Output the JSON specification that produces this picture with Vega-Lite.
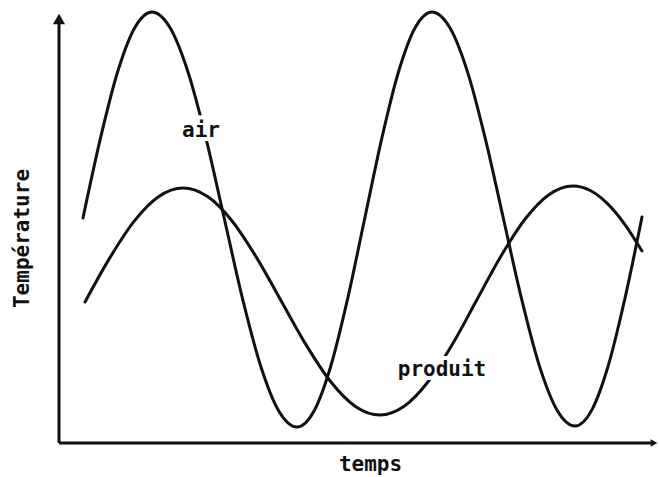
{
  "$schema": "https://vega.github.io/schema/vega-lite/v6.json",
  "width": 600,
  "height": 443,
  "autosize": {"type": "none"},
  "padding": {"left": 59, "top": 0, "right": 0, "bottom": 34},
  "background": "white",
  "config": {
    "view": {"stroke": null},
    "axis": {
      "domain": false, "ticks": false, "labels": false, "grid": false,
      "titleFont": "DejaVu Sans Mono", "titleFontWeight": "bold", "titleFontSize": 21, "titleColor": "#111"
    },
    "axisX": {"titleX": 311, "titleY": 21, "titleAlign": "center", "titleBaseline": "middle"},
    "axisY": {"titleX": -37, "titleY": 238, "titleAlign": "center", "titleBaseline": "middle", "titleAngle": -90}
  },
  "datasets": {
    "origine": [{}],
    "courbes": [
      {"serie": "air", "t": 24, "temp": 225},
      {"serie": "air", "t": 41.25, "temp": 303.8},
      {"serie": "air", "t": 58.5, "temp": 370.7},
      {"serie": "air", "t": 75.75, "temp": 415.3},
      {"serie": "air", "t": 93, "temp": 431},
      {"serie": "air", "t": 111.1, "temp": 415.2},
      {"serie": "air", "t": 129.25, "temp": 370.2},
      {"serie": "air", "t": 147.4, "temp": 302.9},
      {"serie": "air", "t": 165.5, "temp": 223.5},
      {"serie": "air", "t": 183.6, "temp": 144.1},
      {"serie": "air", "t": 201.75, "temp": 76.8},
      {"serie": "air", "t": 219.9, "temp": 31.8},
      {"serie": "air", "t": 238, "temp": 16},
      {"serie": "air", "t": 254.9, "temp": 31.8},
      {"serie": "air", "t": 271.75, "temp": 76.8},
      {"serie": "air", "t": 288.6, "temp": 144.1},
      {"serie": "air", "t": 305.5, "temp": 223.5},
      {"serie": "air", "t": 322.4, "temp": 302.9},
      {"serie": "air", "t": 339.25, "temp": 370.2},
      {"serie": "air", "t": 356.1, "temp": 415.2},
      {"serie": "air", "t": 373, "temp": 431},
      {"serie": "air", "t": 390.9, "temp": 415.2},
      {"serie": "air", "t": 408.75, "temp": 370.4},
      {"serie": "air", "t": 426.6, "temp": 303.2},
      {"serie": "air", "t": 444.5, "temp": 224},
      {"serie": "air", "t": 462.4, "temp": 144.8},
      {"serie": "air", "t": 480.25, "temp": 77.6},
      {"serie": "air", "t": 498.1, "temp": 32.8},
      {"serie": "air", "t": 516, "temp": 17},
      {"serie": "air", "t": 532.75, "temp": 32.9},
      {"serie": "air", "t": 549.5, "temp": 78.2},
      {"serie": "air", "t": 566.25, "temp": 146},
      {"serie": "air", "t": 583, "temp": 226},
      {"serie": "produit", "t": 26, "temp": 141},
      {"serie": "produit", "t": 50.5, "temp": 184.6},
      {"serie": "produit", "t": 75, "temp": 221.6},
      {"serie": "produit", "t": 99.5, "temp": 246.3},
      {"serie": "produit", "t": 124, "temp": 255},
      {"serie": "produit", "t": 148.6, "temp": 246.4},
      {"serie": "produit", "t": 173.25, "temp": 221.8},
      {"serie": "produit", "t": 197.9, "temp": 184.9},
      {"serie": "produit", "t": 222.5, "temp": 141.5},
      {"serie": "produit", "t": 247.1, "temp": 98.1},
      {"serie": "produit", "t": 271.75, "temp": 61.2},
      {"serie": "produit", "t": 296.4, "temp": 36.6},
      {"serie": "produit", "t": 321, "temp": 28},
      {"serie": "produit", "t": 345.1, "temp": 36.7},
      {"serie": "produit", "t": 369.25, "temp": 61.5},
      {"serie": "produit", "t": 393.4, "temp": 98.7},
      {"serie": "produit", "t": 417.5, "temp": 142.5},
      {"serie": "produit", "t": 441.6, "temp": 186.3},
      {"serie": "produit", "t": 465.75, "temp": 223.5},
      {"serie": "produit", "t": 489.9, "temp": 248.3},
      {"serie": "produit", "t": 514, "temp": 257},
      {"serie": "produit", "t": 531.25, "temp": 252.5},
      {"serie": "produit", "t": 548.5, "temp": 239.4},
      {"serie": "produit", "t": 565.75, "temp": 218.7},
      {"serie": "produit", "t": 583, "temp": 192}
    ],
    "etiquettes": [
      {"label": "air", "t": 142, "temp": 312},
      {"label": "produit", "t": 383, "temp": 73}
    ]
  },
  "layer": [
    {
      "data": {"name": "origine"},
      "mark": {"type": "rule", "color": "#111", "strokeWidth": 3},
      "encoding": {
        "x": {"datum": 0, "type": "quantitative", "title": "temps", "scale": {"domain": [0, 600], "nice": false, "zero": false}},
        "y": {"datum": 0, "type": "quantitative", "title": "Température", "scale": {"domain": [0, 443], "nice": false, "zero": false}},
        "y2": {"datum": 424}
      }
    },
    {
      "data": {"name": "origine"},
      "mark": {"type": "rule", "color": "#111", "strokeWidth": 3},
      "encoding": {
        "x": {"datum": 0, "type": "quantitative", "title": "temps"},
        "x2": {"datum": 594},
        "y": {"datum": 0, "type": "quantitative", "title": "Température"}
      }
    },
    {
      "data": {"name": "origine"},
      "mark": {"type": "point", "shape": "triangle-up", "filled": true, "color": "#111", "size": 150, "opacity": 1},
      "encoding": {
        "x": {"datum": 0, "type": "quantitative", "title": "temps"},
        "y": {"datum": 424, "type": "quantitative", "title": "Température"}
      }
    },
    {
      "data": {"name": "origine"},
      "mark": {"type": "point", "shape": "triangle-right", "filled": true, "color": "#111", "size": 60, "opacity": 1},
      "encoding": {
        "x": {"datum": 595, "type": "quantitative", "title": "temps"},
        "y": {"datum": 0, "type": "quantitative", "title": "Température"}
      }
    },
    {
      "data": {"name": "courbes"},
      "mark": {"type": "line", "interpolate": "monotone", "strokeWidth": 3, "strokeCap": "round"},
      "encoding": {
        "x": {"field": "t", "type": "quantitative", "title": "temps"},
        "y": {"field": "temp", "type": "quantitative", "title": "Température"},
        "detail": {"field": "serie"},
        "color": {"value": "#111"}
      }
    },
    {
      "data": {"name": "etiquettes"},
      "mark": {"type": "text", "font": "DejaVu Sans Mono", "fontWeight": "bold", "fontSize": 21, "stroke": "white", "strokeWidth": 8, "fill": "white", "align": "center", "baseline": "middle"},
      "encoding": {
        "x": {"field": "t", "type": "quantitative", "title": "temps"},
        "y": {"field": "temp", "type": "quantitative", "title": "Température"},
        "text": {"field": "label"}
      }
    },
    {
      "data": {"name": "etiquettes"},
      "mark": {"type": "text", "font": "DejaVu Sans Mono", "fontWeight": "bold", "fontSize": 21, "fill": "#111", "align": "center", "baseline": "middle"},
      "encoding": {
        "x": {"field": "t", "type": "quantitative", "title": "temps"},
        "y": {"field": "temp", "type": "quantitative", "title": "Température"},
        "text": {"field": "label"}
      }
    }
  ]
}
